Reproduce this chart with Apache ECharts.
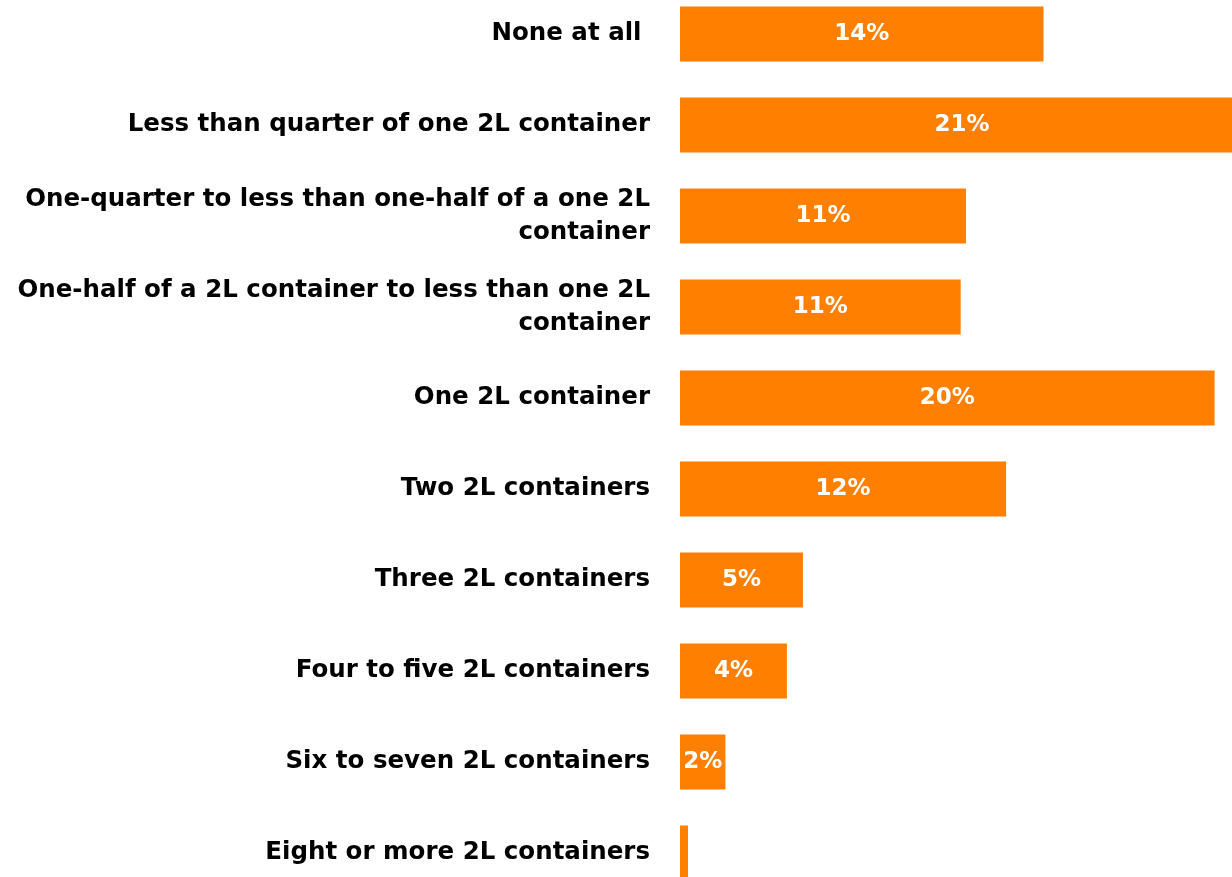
<!DOCTYPE html>
<html>
<head>
<meta charset="utf-8">
<style>
html,body{margin:0;padding:0;background:#fff;}
#chart{width:1232px;height:877px;}
</style>
<script src="https://cdn.jsdelivr.net/npm/echarts@6/dist/echarts.min.js"></script>
</head>
<body>
<div id="chart"></div>
<script>
const categories = [
  "None at all ",
  "Less than quarter of one 2L container",
  "One-quarter to less than one-half of a one 2L\ncontainer",
  "One-half of a 2L container to less than one 2L\ncontainer",
  "One 2L container",
  "Two 2L containers",
  "Three 2L containers",
  "Four to five 2L containers",
  "Six to seven 2L containers",
  "Eight or more 2L containers"
];
const values = [13.6, 21.1, 10.7, 10.5, 20.0, 12.2, 4.6, 4.0, 1.7, 0.3];

const FONT = '"DejaVu Sans", sans-serif';
const chart = echarts.init(document.getElementById('chart'), null, {renderer: 'canvas'});
chart.setOption({
  animation: false,
  backgroundColor: '#ffffff',
  grid: {left: 680, width: 564, top: -11.5, height: 910, containLabel: false, outerBoundsMode: 'none'},
  xAxis: {
    type: 'value', min: 0, max: 21.1,
    show: false
  },
  yAxis: {
    type: 'category',
    data: categories,
    inverse: true,
    axisLine: {show: false},
    axisTick: {show: false},
    splitLine: {show: false},
    axisLabel: {
      margin: 30,
      color: '#000000',
      fontFamily: FONT,
      fontWeight: 'bold',
      fontSize: 24.5,
      lineHeight: 33,
      align: 'right'
    }
  },
  series: [{
    type: 'bar',
    data: values,
    barWidth: 55,
    itemStyle: {color: '#FF7F00'},
    label: {
      show: true,
      position: 'inside',
      color: '#ffffff',
      fontFamily: FONT,
      fontWeight: 'bold',
      fontSize: 23,
      formatter: p => (p.value >= 1 ? Math.round(p.value) + '%' : '')
    }
  }]
});
</script>
</body>
</html>
